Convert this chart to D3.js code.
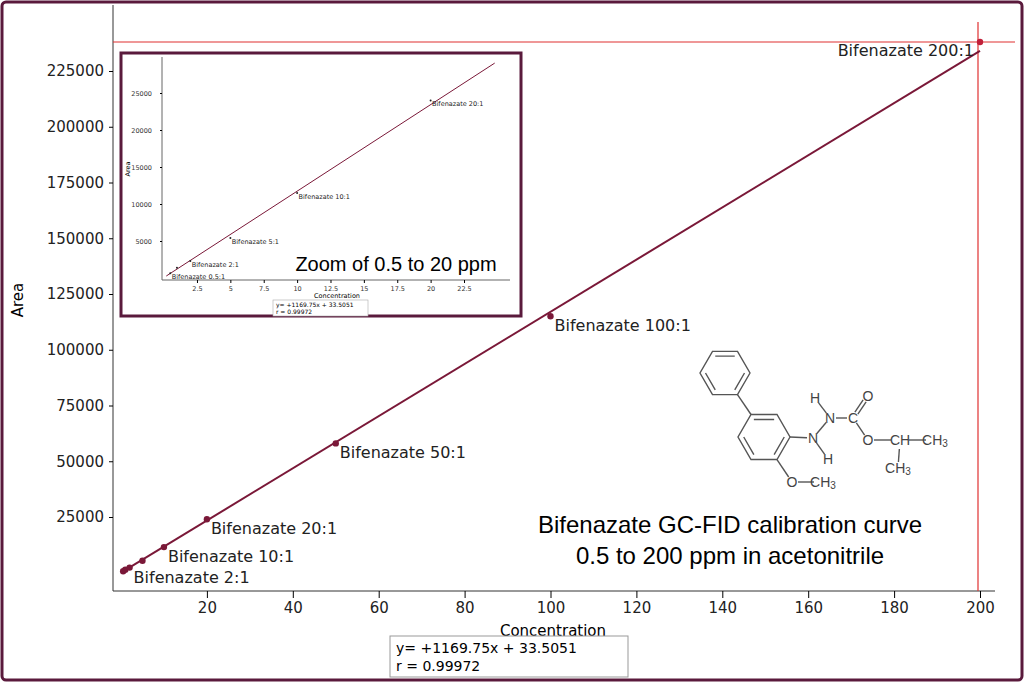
<!DOCTYPE html>
<html><head><meta charset="utf-8">
<script src="https://cdn.jsdelivr.net/npm/d3@7"></script>
<style>body{margin:0;background:#fff}svg{display:block}</style></head>
<body><svg id="c" width="1024" height="682"></svg>
<script>
const conc = [0.5, 1, 2, 5, 10, 20, 50, 100, 200];
const area = [650, 1400, 2300, 5400, 11500, 24000, 58000, 115000, 238000];
const mainLabels = ["", "", "Bifenazate 2:1", "", "Bifenazate 10:1", "Bifenazate 20:1", "Bifenazate 50:1", "Bifenazate 100:1", "Bifenazate 200:1"];
const insetConc = [0.5, 1, 2, 5, 10, 20];
const insetArea = [650, 1400, 2300, 5400, 11500, 24000];
const insetLabels = ["Bifenazate 0.5:1", "", "Bifenazate 2:1", "Bifenazate 5:1", "Bifenazate 10:1", "Bifenazate 20:1"];
const xTicks = [20, 40, 60, 80, 100, 120, 140, 160, 180, 200];
const yTicks = [25000, 50000, 75000, 100000, 125000, 150000, 175000, 200000, 225000];
const insetXTicks = [2.5, 5, 7.5, 10, 12.5, 15, 17.5, 20, 22.5];
const insetYTicks = [5000, 10000, 15000, 20000, 25000];
const slope = 1169.75, intercept = 33.5051;

const svg = d3.select("#c");
const F = "DejaVu Sans, Verdana, sans-serif";
const wine = "#7a1838";
svg.append("rect").attr("x",2).attr("y",2).attr("width",1020).attr("height",678).attr("rx",4)
  .attr("fill","#fff").attr("stroke","#5a1a3c").attr("stroke-width",3);

const x = d3.scaleLinear().domain([0,200]).range([121,980]);
const y = d3.scaleLinear().domain([25000,225000]).range([517,71]);
const xAxisY = 591, yAxisX = 113;
svg.append("line").attr("x1",yAxisX).attr("x2",yAxisX).attr("y1",5).attr("y2",xAxisY).attr("stroke","#333");
svg.append("line").attr("x1",yAxisX).attr("x2",995).attr("y1",xAxisY).attr("y2",xAxisY).attr("stroke","#333");
const gx = svg.append("g").attr("transform",`translate(0,${xAxisY})`)
  .call(d3.axisBottom(x).tickValues(xTicks).tickSize(7).tickPadding(4).tickFormat(d3.format("d")));
gx.select(".domain").remove();
gx.selectAll("text").attr("font-family",F).attr("font-size",15).attr("fill","#222");
const gy = svg.append("g").attr("transform",`translate(${yAxisX},0)`)
  .call(d3.axisLeft(y).tickValues(yTicks).tickSize(4).tickPadding(5).tickFormat(d3.format("d")));
gy.select(".domain").remove();
gy.selectAll("text").attr("font-family",F).attr("font-size",15).attr("fill","#222");
svg.append("text").attr("transform","translate(23,300) rotate(-90)").attr("text-anchor","middle")
  .attr("font-family",F).attr("font-size",15).text("Area");
svg.append("text").attr("x",553).attr("y",636).attr("text-anchor","middle")
  .attr("font-family",F).attr("font-size",15).text("Concentration");

svg.append("line").attr("x1",yAxisX).attr("x2",1015).attr("y1",y(area[8])).attr("y2",y(area[8])).attr("stroke","#e03030").attr("stroke-width",1.2);
svg.append("line").attr("x1",x(200)-2).attr("x2",x(200)-2).attr("y1",22).attr("y2",xAxisY).attr("stroke","#e03030").attr("stroke-width",1.2);

svg.append("line").attr("x1",x(0.3)).attr("y1",y(slope*0.3+intercept)).attr("x2",x(200)).attr("y2",y(slope*200+intercept))
  .attr("stroke",wine).attr("stroke-width",2);
svg.selectAll(".pt").data(conc).join("circle").attr("cx",d=>x(d)).attr("cy",(d,i)=>y(area[i])).attr("r",3.2)
  .attr("fill",(d,i)=>i===8?"#c0203a":wine);
svg.selectAll(".lb").data(conc).join("text")
  .attr("x",(d,i)=>i===8?x(d)-6:x(d)+4).attr("y",(d,i)=>i===8?y(area[i])+14:y(area[i])+15)
  .attr("text-anchor",(d,i)=>i===8?"end":"start")
  .attr("font-family",F).attr("font-size",16).attr("fill","#222").text((d,i)=>mainLabels[i]);

svg.append("rect").attr("x",390).attr("y",636).attr("width",238).attr("height",41).attr("fill","#fff").attr("stroke","#999");
svg.append("text").attr("x",396).attr("y",653).attr("font-family",F).attr("font-size",14).text("y= +1169.75x + 33.5051");
svg.append("text").attr("x",396).attr("y",671).attr("font-family",F).attr("font-size",14).text("r = 0.99972");

const tt = svg.append("g").attr("font-family","Liberation Sans, Arial, sans-serif").attr("font-size",24).attr("text-anchor","middle");
tt.append("text").attr("x",730).attr("y",533).text("Bifenazate GC-FID calibration curve");
tt.append("text").attr("x",730).attr("y",564).text("0.5 to 200 ppm in acetonitrile");

// inset
svg.append("rect").attr("x",121).attr("y",53).attr("width",400).attr("height",263).attr("fill","#fff").attr("stroke","#5a1a3c").attr("stroke-width",3);
const ix = d3.scaleLinear().domain([0,22.5]).range([163.6,464]);
const iy = d3.scaleLinear().domain([5000,25000]).range([241,93]);
const iAxisY = 280, iAxisX = 162;
svg.append("line").attr("x1",iAxisX).attr("x2",iAxisX).attr("y1",57).attr("y2",iAxisY).attr("stroke","#666");
svg.append("line").attr("x1",iAxisX).attr("x2",510).attr("y1",iAxisY).attr("y2",iAxisY).attr("stroke","#666");
const igx = svg.append("g").attr("transform",`translate(0,${iAxisY})`)
  .call(d3.axisBottom(ix).tickValues(insetXTicks).tickSize(3).tickPadding(3).tickFormat(d=>String(d)));
igx.select(".domain").remove();
igx.selectAll("text").attr("font-family",F).attr("font-size",6.5).attr("fill","#333");
const igy = svg.append("g").attr("transform",`translate(${iAxisX},0)`)
  .call(d3.axisLeft(iy).tickValues(insetYTicks).tickSize(2).tickPadding(8).tickFormat(d3.format("d")));
igy.select(".domain").remove();
igy.selectAll("text").attr("font-family",F).attr("font-size",6.5).attr("fill","#333");
svg.append("text").attr("transform","translate(130,169) rotate(-90)").attr("text-anchor","middle").attr("font-family",F).attr("font-size",6.5).text("Area");
svg.append("text").attr("x",337).attr("y",298).attr("text-anchor","middle").attr("font-family",F).attr("font-size",6.5).text("Concentration");
svg.append("line").attr("x1",ix(0.2)).attr("y1",iy(slope*0.2+intercept)).attr("x2",ix(24.8)).attr("y2",iy(slope*24.8+intercept)).attr("stroke",wine).attr("stroke-width",1);
svg.selectAll(".ipt").data(insetConc).join("circle").attr("cx",d=>ix(d)).attr("cy",(d,i)=>iy(insetArea[i])).attr("r",1).attr("fill","#222");
svg.selectAll(".ilb").data(insetConc).join("text").attr("x",d=>ix(d)+1.5).attr("y",(d,i)=>iy(insetArea[i])+6)
  .attr("font-family",F).attr("font-size",6.5).attr("fill","#222").text((d,i)=>insetLabels[i]);
svg.append("rect").attr("x",273).attr("y",300).attr("width",95).attr("height",16).attr("fill","#fff").attr("stroke","#aaa").attr("stroke-width",0.6);
svg.append("text").attr("x",276).attr("y",307).attr("font-family",F).attr("font-size",6).text("y= +1169.75x + 33.5051");
svg.append("text").attr("x",276).attr("y",314).attr("font-family",F).attr("font-size",6).text("r = 0.99972");
svg.append("text").attr("x",396).attr("y",271).attr("text-anchor","middle").attr("font-family","Liberation Sans, Arial, sans-serif").attr("font-size",20).text("Zoom of 0.5 to 20 ppm");

// molecule
const m = svg.append("g").attr("stroke","#555").attr("stroke-width",1.4).attr("fill","none");
function hex(cx,cy,r){return d3.range(6).map(k=>{const a=Math.PI/3*k;return [cx+r*Math.cos(a),cy+r*Math.sin(a)];});}
function poly(p){return "M"+p.map(q=>q.join(",")).join("L")+"Z";}
function inner(p,c,a,b){const s=0.78;const f=q=>[c[0]+(q[0]-c[0])*s,c[1]+(q[1]-c[1])*s];const A=f(p[a]),B=f(p[b]);return `M${A}L${B}`;}
const c1=[725,373], c2=[764,437];
const r1 = hex(c1[0],c1[1],25), r2 = hex(c2[0],c2[1],26);
m.append("path").attr("d",poly(r1));
m.append("path").attr("d",poly(r2));
m.append("path").attr("d",inner(r1,c1,0,1)+inner(r1,c1,2,3)+inner(r1,c1,4,5));
m.append("path").attr("d",inner(r2,c2,0,1)+inner(r2,c2,2,3)+inner(r2,c2,4,5));
m.append("path").attr("d",`M${r1[1]}L${r2[4]}`);
// atoms
const atoms = {A:r2[0], B:r2[1], N1:[813,438], N2:[830,418], H1:[815,398], H2:[828,459], C:[853,418], O1:[868,396], O2:[868,440], CH:[900,440], M1:[935,440], M2:[898,468], O3:[792,482], M3:[823,482]};
const lab = {N1:1,N2:1,H1:1,H2:1,C:1,O1:1,O2:1,CH:1,M1:1,M2:1,O3:1,M3:1};
function bond(a,b,off){
  let p=atoms[a], q=atoms[b]; const dx=q[0]-p[0], dy=q[1]-p[1], L=Math.hypot(dx,dy);
  const ux=dx/L, uy=dy/L; const sa=lab[a]?(a==="CH"?9:6):0, sb=lab[b]?((b==="CH"||b==="M1"||b==="M3")?9:6):0;
  const nx=-uy*(off||0), ny=ux*(off||0);
  m.append("line").attr("x1",p[0]+ux*sa+nx).attr("y1",p[1]+uy*sa+ny).attr("x2",q[0]-ux*sb+nx).attr("y2",q[1]-uy*sb+ny);
}
bond("A","N1"); bond("N1","N2"); bond("N2","H1"); bond("N1","H2"); bond("N2","C");
bond("C","O1",-1.8); bond("C","O1",1.8); bond("C","O2"); bond("O2","CH"); bond("CH","M1"); bond("CH","M2");
bond("B","O3"); bond("O3","M3");
const mt = svg.append("g").attr("font-family","Liberation Sans, Arial, sans-serif").attr("font-size",14).attr("fill","#444")
  .attr("text-anchor","middle").attr("dominant-baseline","central");
[["N","N1"],["N","N2"],["H","H1"],["H","H2"],["C","C"],["O","O1"],["O","O2"],["CH","CH"],["O","O3"]].forEach(t=>mt.append("text").attr("x",atoms[t[1]][0]).attr("y",atoms[t[1]][1]).text(t[0]));
[["M1"],["M2"],["M3"]].forEach(t=>{const g=mt.append("text").attr("x",atoms[t[0]][0]).attr("y",atoms[t[0]][1]);g.append("tspan").text("CH");g.append("tspan").attr("font-size",10).attr("dy",3).text("3");});
</script></body></html>
